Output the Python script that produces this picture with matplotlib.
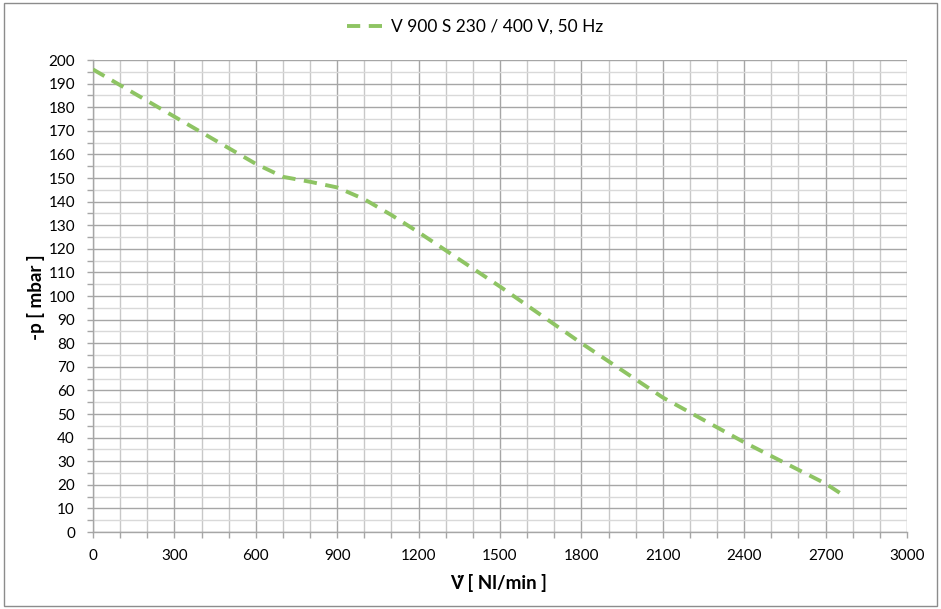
import numpy as np
import matplotlib
matplotlib.use('Agg')
import matplotlib.pyplot as plt
from matplotlib.patches import Rectangle

flow = [0, 300, 600, 700, 800, 900, 1000, 1100, 1200, 1500, 1800, 2100, 2400, 2700, 2760]
pressure = [196, 176, 156, 150.5, 148.4, 146, 141, 134.3, 127, 104, 80, 57, 38, 20.5, 16]
series_name = 'V 900 S 230 / 400 V, 50 Hz'

x_ticks = list(range(0, 3001, 300))
y_ticks = list(range(0, 201, 10))

plt.rcParams['font.family'] = ['Lato', 'DejaVu Sans']

W, H = 941, 609
fig = plt.figure(figsize=(W / 100, H / 100), dpi=100)
ax = fig.add_axes([93 / W, 1 - 532 / H, (907 - 93) / W, (532 - 60) / H])

ax.plot(flow, pressure, color='#8EC463', lw=2.8, ls=(0, (3.4, 2.2)), label=series_name,
        dash_capstyle='butt', zorder=3)

ax.set_xlim(0, 3000)
ax.set_ylim(0, 200)
ax.set_xticks(x_ticks)
ax.set_yticks(y_ticks)
ax.set_xticks(range(0, 3001, 100), minor=True)
ax.set_yticks(range(0, 201, 5), minor=True)

ax.grid(True, which='major', axis='both', color='#A6A6A6', lw=1.0, zorder=0)
ax.grid(True, which='minor', axis='x', color='#C8C8C8', lw=1.0, zorder=0)
ax.grid(True, which='minor', axis='y', color='#D9D9D9', lw=1.0, zorder=0)
ax.set_axisbelow(True)

for s in ['top', 'right']:
    ax.spines[s].set_visible(False)
for s in ['left', 'bottom']:
    ax.spines[s].set_color('#A6A6A6')
    ax.spines[s].set_linewidth(1.0)

ax.tick_params(which='both', direction='out', length=4, width=1, color='#A6A6A6',
               labelsize=11, labelcolor='#000000')
ax.tick_params(axis='x', which='major', pad=8.5)
ax.tick_params(axis='y', which='major', pad=9)

# axis titles placed by pixel position
fig.text(499 / W, 1 - 583 / H, 'V\u0307 [ Nl/min ]', fontsize=13.5, fontweight='bold',
         ha='center', va='center')
fig.text(36 / W, 1 - 297 / H, '-p [ mbar ]', fontsize=13.5, fontweight='bold',
         ha='center', va='center', rotation=90)

leg = fig.legend(loc='center', bbox_to_anchor=(475 / W, 1 - 27 / H), frameon=False,
                 fontsize=12.5, handlelength=2.4, handletextpad=0.15)

fig.patches.append(Rectangle((4 / W, 3 / H), 933 / W, 603 / H, transform=fig.transFigure,
                             fill=False, edgecolor='#8C8C8C', lw=1.0))

fig.savefig('out.png', dpi=100)
